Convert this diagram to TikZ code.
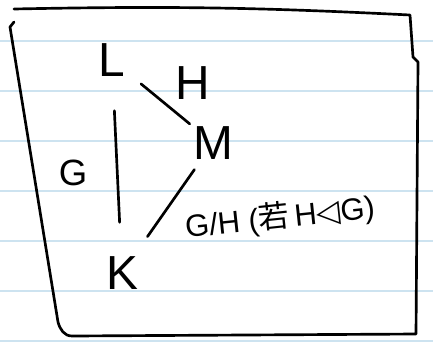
\documentclass[tikz,border=0pt]{standalone}
\usepackage{amsmath,amssymb}
\usepackage{fontspec}
\setmainfont{Liberation Sans}
\newfontfamily\cjk{Noto Sans CJK SC}
\newfontfamily\symf{DejaVu Sans}
\usepackage{xcolor}
\usepackage{tikz}
\usetikzlibrary{positioning}
\definecolor{paperline}{RGB}{205,227,240}

\begin{document}
\begin{tikzpicture}[x=0.25mm,y=-0.25mm,
  rulel/.style={draw=paperline,line width=0.8pt},
  frame/.style={draw,line width=1.9pt,line cap=round,line join=round},
  lett/.style={font=\fontsize{34}{38}\selectfont,inner sep=0pt},
  lab/.style={font=\fontsize{26}{30}\selectfont,inner sep=0pt},
  small/.style={font=\fontsize{22}{26}\selectfont,inner sep=0pt},
  edge/.style={line width=1.9pt,line cap=round}]
\useasboundingbox (0,0) rectangle (433,342);
% ruled paper
\foreach \y in {41,91,...,341}
  \draw[rulel] (0,\y) -- (433,\y);
% hand drawn frame
\draw[frame] (14,9) to[bend left=2] (410,15) -- (413,57) -- (418,62) -- (416,334)
  -- (72,336) to[out=180,in=-75] (58,322) -- (10,27) -- (14,22);
% groups
\node[lett] (L) at (112,60)  {L};
\node[lett] (M) at (213,143) {M};
\node[lett] (K) at (122,273) {K};
% indices
\node[lett] (h)  at (193,83)  {H};
\node[lab]  (g)  at (73,173)  {G};
\node[small,rotate=6] (q) at (280,218) {G/H (\cjk 若\,\rmfamily H\symf ◁\rmfamily G)};
\draw[edge,shorten <=8.5mm,shorten >=8.5mm] (L) -- (K);
\draw[edge,shorten <=5mm,shorten >=1mm] (L) -- (M);
\draw[edge,shorten <=3mm,shorten >=6mm] (M) -- (K);
\end{tikzpicture}
\end{document}
